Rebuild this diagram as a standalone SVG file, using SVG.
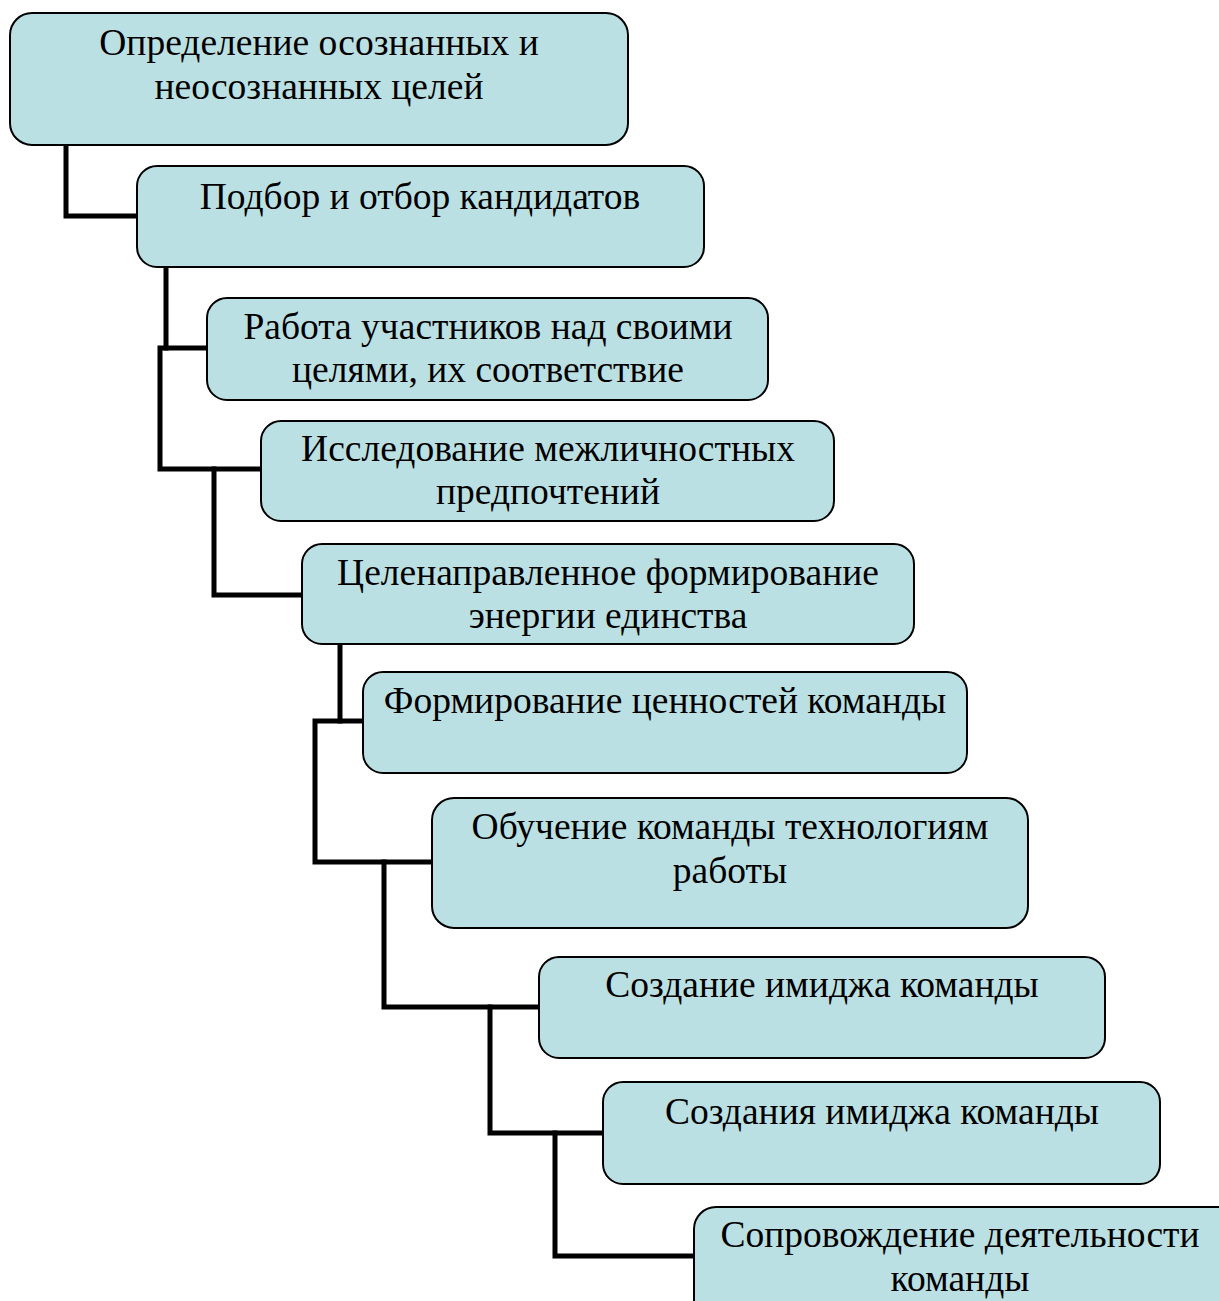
<svg xmlns="http://www.w3.org/2000/svg" width="1219" height="1301" viewBox="0 0 1219 1301">
<style>
.box{fill:#bbe0e3;stroke:#000;stroke-width:2}
.t{font-family:"Liberation Serif","Times New Roman",serif;font-size:37.5px;fill:#000;text-anchor:middle}
.c{fill:none;stroke:#000;stroke-width:5;stroke-linecap:square;stroke-linejoin:miter}
</style>
<rect width="1219" height="1301" fill="#fff"/>
<g id="connectors">
<polyline class="c" points="66,146 66,216 137,216"/>
<polyline class="c" points="166,268 166,348"/>
<polyline class="c" points="207,348 160,348 160,469 261,469"/>
<polyline class="c" points="214,469 214,595 302,595"/>
<polyline class="c" points="340,645 340,721"/>
<polyline class="c" points="363,721 315,721 315,862 432,862"/>
<polyline class="c" points="384,862 384,1007 539,1007"/>
<polyline class="c" points="490,1007 490,1133 603,1133"/>
<polyline class="c" points="555,1133 555,1256 694,1256"/>
</g>
<g id="n1"><rect class="box" x="10" y="13" width="618" height="132" rx="22"/>
<text class="t" x="319" y="55">Определение осознанных и</text><text class="t" x="319" y="99">неосознанных целей</text></g>
<g id="n2"><rect class="box" x="137" y="166" width="567" height="101" rx="20"/>
<text class="t" x="420" y="209">Подбор и отбор кандидатов</text></g>
<g id="n3"><rect class="box" x="207" y="298" width="561" height="102" rx="20"/>
<text class="t" x="488" y="339">Работа участников над своими</text><text class="t" x="488" y="382">целями, их соответствие</text></g>
<g id="n4"><rect class="box" x="261" y="421" width="573" height="100" rx="20"/>
<text class="t" x="548" y="461">Исследование межличностных</text><text class="t" x="548" y="504">предпочтений</text></g>
<g id="n5"><rect class="box" x="302" y="544" width="612" height="100" rx="20"/>
<text class="t" x="608" y="585">Целенаправленное формирование</text><text class="t" x="608" y="628">энергии единства</text></g>
<g id="n6"><rect class="box" x="363" y="672" width="604" height="101" rx="20"/>
<text class="t" x="665" y="713">Формирование ценностей команды</text></g>
<g id="n7"><rect class="box" x="432" y="798" width="596" height="130" rx="22"/>
<text class="t" x="730" y="839">Обучение команды технологиям</text><text class="t" x="730" y="883">работы</text></g>
<g id="n8"><rect class="box" x="539" y="957" width="566" height="101" rx="20"/>
<text class="t" x="822" y="997">Создание имиджа команды</text></g>
<g id="n9"><rect class="box" x="603" y="1082" width="557" height="102" rx="20"/>
<text class="t" x="882" y="1124">Создания имиджа команды</text></g>
<g id="n10"><rect class="box" x="694" y="1207" width="560" height="130" rx="22"/>
<text class="t" x="960" y="1247">Сопровождение деятельности</text><text class="t" x="960" y="1291">команды</text></g>
</svg>
